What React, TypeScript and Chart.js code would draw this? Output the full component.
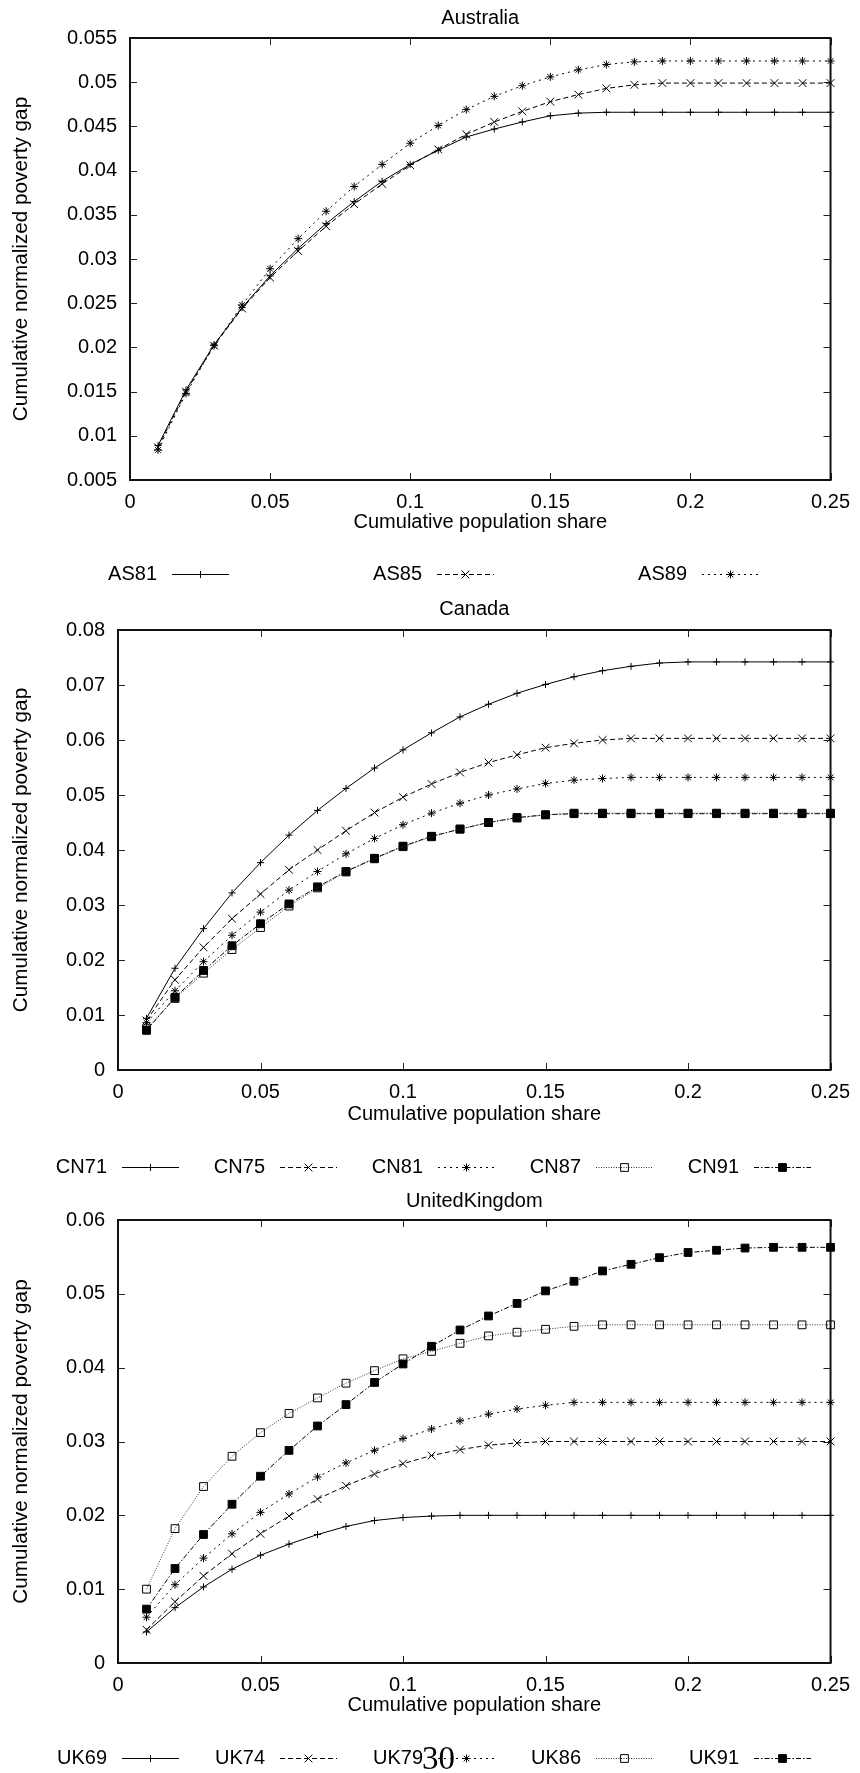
import React, { useEffect, useRef } from 'react';
import { Chart, registerables } from 'chart.js';

Chart.register(...registerables);

const FONT = "'Liberation Sans', Arial, Helvetica, sans-serif";

// ---------- data ----------
const popShare = [0.01, 0.02, 0.03, 0.04, 0.05, 0.06, 0.07, 0.08, 0.09, 0.1, 0.11, 0.12, 0.13, 0.14, 0.15, 0.16, 0.17, 0.18, 0.19, 0.2, 0.21, 0.22, 0.23, 0.24, 0.25];

const xTicks = [0, 0.05, 0.1, 0.15, 0.2, 0.25];

const auLabels = ['AS81', 'AS85', 'AS89'];
const as81 = [0.0089, 0.0152, 0.0203, 0.0245, 0.0281, 0.0312, 0.034, 0.0365, 0.0388, 0.0407, 0.0423, 0.0438, 0.0447, 0.0455, 0.0462, 0.0465, 0.0466, 0.0466, 0.0466, 0.0466, 0.0466, 0.0466, 0.0466, 0.0466, 0.0466];
const as85 = [0.0087, 0.015, 0.0202, 0.0244, 0.0279, 0.0309, 0.0337, 0.0362, 0.0385, 0.0406, 0.0424, 0.0441, 0.0455, 0.0467, 0.0478, 0.0486, 0.0493, 0.0497, 0.0499, 0.0499, 0.0499, 0.0499, 0.0499, 0.0499, 0.0499];
const as89 = [0.0084, 0.0148, 0.0202, 0.0248, 0.0289, 0.0323, 0.0354, 0.0382, 0.0407, 0.0431, 0.0451, 0.0469, 0.0484, 0.0496, 0.0506, 0.0514, 0.052, 0.0523, 0.0524, 0.0524, 0.0524, 0.0524, 0.0524, 0.0524, 0.0524];

const cnLabels = ['CN71', 'CN75', 'CN81', 'CN87', 'CN91'];
const cn71 = [0.0094, 0.0185, 0.0257, 0.0322, 0.0377, 0.0427, 0.0472, 0.0512, 0.0549, 0.0582, 0.0613, 0.0642, 0.0665, 0.0685, 0.0701, 0.0715, 0.0726, 0.0734, 0.074, 0.0742, 0.0742, 0.0742, 0.0742, 0.0742, 0.0742];
const cn75 = [0.009, 0.0164, 0.0223, 0.0275, 0.032, 0.0364, 0.04, 0.0435, 0.0468, 0.0496, 0.052, 0.0541, 0.0559, 0.0573, 0.0586, 0.0594, 0.06, 0.0603, 0.0603, 0.0603, 0.0603, 0.0603, 0.0603, 0.0603, 0.0603];
const cn81 = [0.0086, 0.0144, 0.0197, 0.0245, 0.0287, 0.0327, 0.0361, 0.0393, 0.0421, 0.0446, 0.0467, 0.0485, 0.05, 0.0511, 0.0521, 0.0527, 0.053, 0.0532, 0.0532, 0.0532, 0.0532, 0.0532, 0.0532, 0.0532, 0.0532];
const cn87 = [0.0075, 0.013, 0.0176, 0.0219, 0.0259, 0.0298, 0.0331, 0.036, 0.0384, 0.0406, 0.0424, 0.0438, 0.045, 0.0458, 0.0464, 0.0467, 0.0467, 0.0467, 0.0467, 0.0467, 0.0467, 0.0467, 0.0467, 0.0467, 0.0467];
const cn91 = [0.0072, 0.0132, 0.0181, 0.0226, 0.0266, 0.0302, 0.0333, 0.0361, 0.0385, 0.0407, 0.0425, 0.0438, 0.045, 0.0459, 0.0464, 0.0466, 0.0466, 0.0466, 0.0466, 0.0466, 0.0466, 0.0466, 0.0466, 0.0466, 0.0466];

const ukLabels = ['UK69', 'UK74', 'UK79', 'UK86', 'UK91'];
const uk69 = [0.0042, 0.0075, 0.0103, 0.0127, 0.0146, 0.0161, 0.0174, 0.0185, 0.0193, 0.0197, 0.0199, 0.02, 0.02, 0.02, 0.02, 0.02, 0.02, 0.02, 0.02, 0.02, 0.02, 0.02, 0.02, 0.02, 0.02];
const uk74 = [0.0045, 0.0083, 0.0118, 0.0148, 0.0175, 0.0199, 0.0222, 0.024, 0.0256, 0.027, 0.0281, 0.0289, 0.0295, 0.0298, 0.03, 0.03, 0.03, 0.03, 0.03, 0.03, 0.03, 0.03, 0.03, 0.03, 0.03];
const uk79 = [0.0062, 0.0106, 0.0142, 0.0175, 0.0204, 0.0229, 0.0252, 0.0271, 0.0288, 0.0304, 0.0317, 0.0328, 0.0337, 0.0344, 0.0349, 0.0353, 0.0353, 0.0353, 0.0353, 0.0353, 0.0353, 0.0353, 0.0353, 0.0353, 0.0353];
const uk86 = [0.01, 0.0182, 0.0239, 0.028, 0.0312, 0.0338, 0.0359, 0.0379, 0.0396, 0.0412, 0.0422, 0.0433, 0.0443, 0.0448, 0.0452, 0.0456, 0.0458, 0.0458, 0.0458, 0.0458, 0.0458, 0.0458, 0.0458, 0.0458, 0.0458];
const uk91 = [0.0073, 0.0128, 0.0174, 0.0215, 0.0253, 0.0288, 0.0321, 0.035, 0.038, 0.0405, 0.0429, 0.0451, 0.047, 0.0487, 0.0504, 0.0517, 0.0531, 0.054, 0.0549, 0.0556, 0.0559, 0.0562, 0.0563, 0.0563, 0.0563];

// ---------- styles ----------
type MarkStyle = { dash: number[]; point: string; radius: number; fill: boolean; color: string };
const STYLES: MarkStyle[] = [
  { dash: [], point: 'cross', radius: 3.5, fill: false, color: '#000' },
  { dash: [5, 3], point: 'crossRot', radius: 5.5, fill: false, color: '#000' },
  { dash: [2, 4], point: 'star', radius: 4, fill: false, color: '#000' },
  { dash: [1, 1.5], point: 'rect', radius: 5.5, fill: false, color: '#333' },
  { dash: [5, 2, 1.5, 2], point: 'rect', radius: 5.5, fill: true, color: '#000' },
];

function drawMarker(ctx: CanvasRenderingContext2D, s: MarkStyle, x: number, y: number) {
  const r = s.radius;
  const d = r * Math.SQRT1_2;
  ctx.beginPath();
  if (s.point === 'cross' || s.point === 'star') {
    ctx.moveTo(x - r, y); ctx.lineTo(x + r, y);
    ctx.moveTo(x, y - r); ctx.lineTo(x, y + r);
  }
  if (s.point === 'crossRot' || s.point === 'star') {
    ctx.moveTo(x - d, y - d); ctx.lineTo(x + d, y + d);
    ctx.moveTo(x - d, y + d); ctx.lineTo(x + d, y - d);
  }
  if (s.point === 'rect') {
    ctx.rect(x - d, y - d, 2 * d, 2 * d);
    if (s.fill) { ctx.fillStyle = '#000'; ctx.fill(); }
  }
  ctx.strokeStyle = '#000';
  ctx.lineWidth = 1;
  ctx.stroke();
}

const fmt = (v: number) => String(Number(Number(v).toFixed(4)));

const framePlugin = {
  id: 'gnuframe',
  beforeDatasetsDraw(chart: any) {
    const { ctx, chartArea } = chart;
    const { left, right, top, bottom } = chartArea;
    const xs = chart.scales.x;
    const ys = chart.scales.y;
    ctx.save();
    ctx.strokeStyle = '#222';
    ctx.lineWidth = 1;
    ctx.setLineDash([]);
    ctx.beginPath();
    xs.ticks.forEach((t: any) => {
      const px = Math.round(xs.getPixelForValue(t.value)) + 0.5;
      ctx.moveTo(px, bottom); ctx.lineTo(px, bottom - 7);
      ctx.moveTo(px, top); ctx.lineTo(px, top + 7);
    });
    ys.ticks.forEach((t: any) => {
      const py = Math.round(ys.getPixelForValue(t.value)) + 0.5;
      ctx.moveTo(left, py); ctx.lineTo(left + 7, py);
      ctx.moveTo(right, py); ctx.lineTo(right - 7, py);
    });
    ctx.stroke();
    ctx.strokeStyle = '#111';
    ctx.lineWidth = 2;
    ctx.strokeRect(left, top, right - left, bottom - top);
    ctx.restore();
  },
  afterDraw(chart: any, _args: any, opts: any) {
    const { ctx, chartArea } = chart;
    ctx.save();
    ctx.fillStyle = '#000';
    ctx.font = `20px ${FONT}`;
    ctx.textBaseline = 'middle';
    ctx.textAlign = 'center';
    ctx.fillText(opts.title, (chartArea.left + chartArea.right) / 2, opts.titleY);
    // legend
    chart.data.datasets.forEach((ds: any, i: number) => {
      const s: MarkStyle = ds.markStyle;
      const tx = opts.legendTextRight + i * opts.legendPitch;
      const ly = opts.legendY;
      ctx.textAlign = 'right';
      ctx.fillStyle = '#000';
      ctx.fillText(ds.label, tx, ly);
      const x0 = tx + 15;
      const x1 = x0 + 57;
      ctx.beginPath();
      ctx.setLineDash(s.dash);
      ctx.strokeStyle = s.color;
      ctx.lineWidth = 1;
      ctx.moveTo(x0, Math.round(ly) + 0.5);
      ctx.lineTo(x1, Math.round(ly) + 0.5);
      ctx.stroke();
      ctx.setLineDash([]);
      drawMarker(ctx, s, (x0 + x1) / 2, Math.round(ly) + 0.5);
    });
    ctx.restore();
  },
};

type PanelSpec = {
  top: number;
  height: number;
  plotLeft: number;
  plotRight: number;
  plotTop: number;
  plotBottom: number;
  yMin: number;
  yMax: number;
  yStep: number;
  title: string;
  titleY: number;
  xTitleOffset: number;
  legendY: number;
  legendTextRight: number;
  legendPitch: number;
  labels: string[];
  series: number[][];
};

const panels: PanelSpec[] = [
  {
    top: 0, height: 592, plotLeft: 130, plotRight: 837, plotTop: 38, plotBottom: 480,
    yMin: 0.005, yMax: 0.055, yStep: 0.005, title: 'Australia', titleY: 18, xTitleOffset: 42,
    legendY: 574, legendTextRight: 157, legendPitch: 265,
    labels: auLabels, series: [as81, as85, as89],
  },
  {
    top: 592, height: 590, plotLeft: 118, plotRight: 837, plotTop: 630, plotBottom: 1070,
    yMin: 0, yMax: 0.08, yStep: 0.01, title: 'Canada', titleY: 609, xTitleOffset: 44,
    legendY: 1167, legendTextRight: 107, legendPitch: 158,
    labels: cnLabels, series: [cn71, cn75, cn81, cn87, cn91],
  },
  {
    top: 1182, height: 591, plotLeft: 118, plotRight: 837, plotTop: 1220, plotBottom: 1663,
    yMin: 0, yMax: 0.06, yStep: 0.01, title: 'UnitedKingdom', titleY: 1201.5, xTitleOffset: 42,
    legendY: 1758, legendTextRight: 107, legendPitch: 158,
    labels: ukLabels, series: [uk69, uk74, uk79, uk86, uk91],
  },
];

function Panel({ spec }: { spec: PanelSpec }) {
  const ref = useRef<HTMLCanvasElement | null>(null);
  useEffect(() => {
    if (!ref.current) return;
    const relBottom = spec.plotBottom - spec.top;
    const xAxisH = spec.height - relBottom;
    const datasets = spec.series.map((vals, i) => {
      const s = STYLES[i];
      return {
        label: spec.labels[i],
        data: popShare.map((x, k) => ({ x, y: vals[k] })),
        borderColor: s.color,
        borderWidth: 1,
        borderDash: s.dash,
        pointStyle: s.point,
        pointRadius: s.radius,
        pointBorderColor: '#000',
        pointBackgroundColor: s.fill ? '#000' : 'rgba(0,0,0,0)',
        pointBorderWidth: 1,
        fill: false,
        tension: 0,
        clip: false,
        markStyle: s,
      };
    });
    const chart = new Chart(ref.current, {
      type: 'line',
      data: { datasets } as any,
      plugins: [framePlugin as any],
      options: {
        animation: false,
        responsive: false,
        events: [],
        layout: {
          padding: { left: 0, right: 860 - spec.plotRight, top: spec.plotTop - spec.top, bottom: 0 },
        },
        plugins: {
          legend: { display: false },
          title: { display: false },
          tooltip: { enabled: false },
          gnuframe: {
            title: spec.title,
            titleY: spec.titleY - spec.top,
            legendY: spec.legendY - spec.top,
            legendTextRight: spec.legendTextRight,
            legendPitch: spec.legendPitch,
          },
        } as any,
        scales: {
          x: {
            type: 'linear',
            min: 0,
            max: 0.25,
            afterBuildTicks: (axis: any) => {
              axis.ticks = xTicks.map((v) => ({ value: v }));
            },
            afterFit: (axis: any) => { axis.height = xAxisH; },
            grid: { display: false, drawTicks: false },
            border: { display: false },
            ticks: {
              autoSkip: false,
              maxRotation: 0,
              padding: 10,
              color: '#000',
              font: { family: FONT, size: 20, lineHeight: 1.2 },
              callback: (v: any) => fmt(v),
            },
            title: {
              display: true,
              text: 'Cumulative population share',
              color: '#000',
              font: { family: FONT, size: 20, lineHeight: 1.2 },
              padding: { top: 0, bottom: xAxisH - spec.xTitleOffset - 12 },
            },
          },
          y: {
            type: 'linear',
            min: spec.yMin,
            max: spec.yMax,
            afterFit: (axis: any) => { axis.width = spec.plotLeft; },
            grid: { display: false, drawTicks: false },
            border: { display: false },
            ticks: {
              stepSize: spec.yStep,
              autoSkip: false,
              padding: 13,
              color: '#000',
              font: { family: FONT, size: 20, lineHeight: 1.2 },
              callback: (v: any) => fmt(v),
            },
            title: {
              display: true,
              text: 'Cumulative normalized poverty gap',
              color: '#000',
              font: { family: FONT, size: 20.7, lineHeight: 1.2 },
              padding: { top: 8.5, bottom: 0 },
            },
          },
        },
      } as any,
    });
    return () => chart.destroy();
  }, [spec]);
  return (
    <canvas
      ref={ref}
      width={860}
      height={spec.height}
      style={{ position: 'absolute', left: 0, top: spec.top, width: 860, height: spec.height }}
    />
  );
}

export default function App() {
  return (
    <div
      style={{
        position: 'absolute', left: 0, top: 0, width: 860, height: 1773,
        overflow: 'hidden', background: '#fff',
      }}
    >
      {panels.map((p) => (
        <Panel key={p.title} spec={p} />
      ))}
      <div
        style={{
          position: 'absolute', left: 422, top: 1742, fontFamily: "'Liberation Serif', 'Times New Roman', serif",
          fontSize: 33, lineHeight: '33px', color: '#000', whiteSpace: 'nowrap',
        }}
      >
        30
      </div>
    </div>
  );
}
